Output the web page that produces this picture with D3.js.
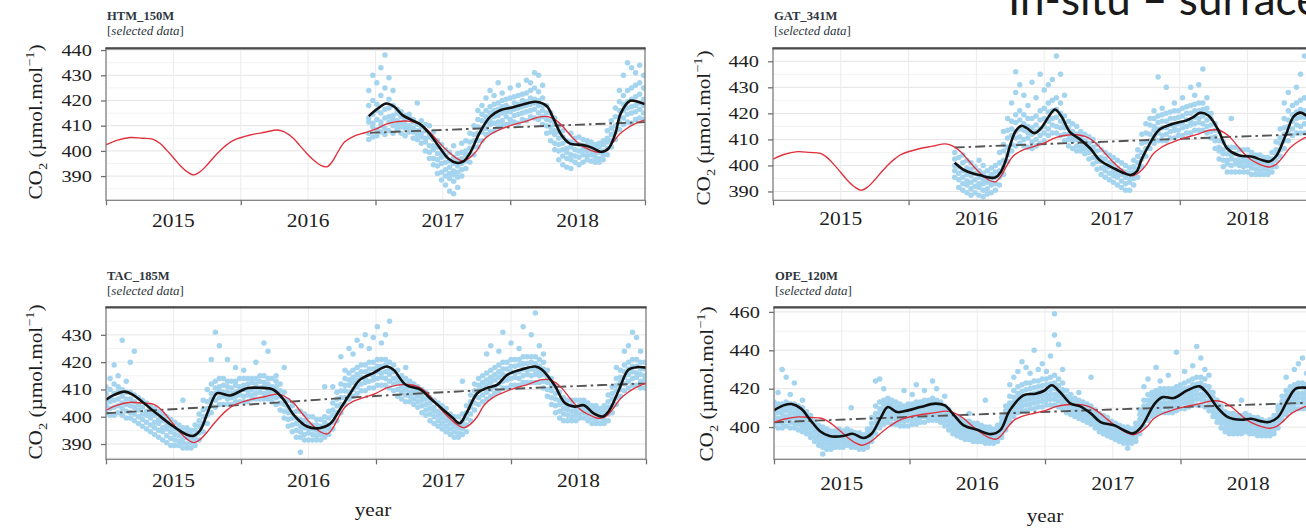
<!DOCTYPE html>
<html>
<head>
<meta charset="utf-8">
<script src="https://cdn.jsdelivr.net/npm/d3@7"></script>
<style>
  html, body { margin: 0; padding: 0; background: #fff; overflow: hidden; }
  svg { display: block; }
</style>
</head>
<body>
<svg id="chart" width="1306" height="528"></svg>
<script>
// ---------------------------------------------------------------
// Data: CO2 (µmol/mol) at four towers, decimal years
// ---------------------------------------------------------------

// Year boundaries (tick marks) and year names (labels at mid-year)
const yearTicks  = [2015, 2016, 2017, 2018, 2019];
const yearLabels = [2015, 2016, 2017, 2018];

// Surface reference curve (red), common to the four sites
const surfaceRef = [
  [2015.00,402.4],[2015.08,404.2],[2015.18,405.3],[2015.27,405.0],[2015.35,404.6],[2015.40,403.0],
  [2015.45,400.3],[2015.50,397.3],[2015.55,394.2],[2015.60,391.8],[2015.65,390.5],[2015.70,391.8],
  [2015.75,394.4],[2015.80,397.5],[2015.85,400.3],[2015.90,402.6],[2015.95,404.3],[2016.07,406.3],
  [2016.18,407.4],[2016.27,408.3],[2016.32,407.6],[2016.39,405.0],[2016.44,402.0],[2016.49,399.0],
  [2016.54,396.4],[2016.59,394.4],[2016.64,393.7],[2016.68,395.8],[2016.72,399.5],[2016.77,403.5],
  [2016.83,405.6],[2016.92,407.2],[2017.00,408.6],[2017.08,410.6],[2017.16,411.6],[2017.24,411.8],
  [2017.31,411.0],[2017.36,409.5],[2017.41,407.0],[2017.46,404.0],[2017.51,401.2],[2017.56,398.8],
  [2017.61,396.8],[2017.65,396.0],[2017.70,397.3],[2017.75,400.0],[2017.80,404.2],[2017.86,406.8],
  [2017.93,408.6],[2018.03,410.5],[2018.12,411.8],[2018.22,413.5],[2018.28,413.6],[2018.33,412.5],
  [2018.38,410.3],[2018.43,407.2],[2018.47,404.8],[2018.52,402.4],[2018.57,400.9],[2018.62,399.8],
  [2018.66,399.4],[2018.71,400.4],[2018.76,403.2],[2018.81,406.6],[2018.86,408.7],[2018.92,410.6],
  [2019.00,412.3]
];

// ---- HTM_150M ----
const htmSmooth = [
  [2016.95,413.8],[2017.02,416.9],[2017.08,418.8],[2017.14,417.5],[2017.20,414.2],[2017.27,412.2],
  [2017.33,410.6],[2017.40,406.9],[2017.48,401.0],[2017.54,397.0],[2017.60,395.3],[2017.65,395.7],
  [2017.70,399.0],[2017.77,406.9],[2017.85,413.5],[2017.93,416.2],[2018.02,417.3],[2018.12,418.8],
  [2018.19,419.5],[2018.27,417.8],[2018.32,412.9],[2018.38,406.3],[2018.44,403.0],[2018.54,402.3],
  [2018.60,401.4],[2018.68,399.6],[2018.73,401.0],[2018.78,406.9],[2018.82,414.9],[2018.89,419.9],
  [2018.94,419.6],[2019.00,418.6]
];
const htmTrend = [[2016.96,407.2],[2019.00,411.4]];
const htmObs = [
  [2016.95,404.5,407,411.5,413,418,424],[2016.98,405.5,409.5,411,414.5,420,430],
  [2017.01,406,408.5,412.5,416,418.5,427],[2017.04,407.5,410,411.5,415,422,433],
  [2017.07,406.5,409,413,416.5,425,438],[2017.10,408,411.5,413.5,417,420.5,429],
  [2017.13,407,410,412.5,414,418,424],[2017.16,408.5,410.5,412,415,416.5],
  [2017.19,407,409.5,411,413.5,415.5],[2017.22,406,409,410.5,412.5,414],
  [2017.25,407.5,408.5,410,413,414.5],[2017.28,405,407.5,409,411.5,412.5],
  [2017.31,404.5,406.5,408,410.5,419],[2017.34,403,405.5,407,409.5,412],
  [2017.37,400,403.5,405,408,410.5],[2017.40,397,399.5,402,405.5,406.5,410],
  [2017.43,394.5,397,400.5,402,404.5,407.5],[2017.46,391,394,396.5,399,401.5,404],
  [2017.49,388.5,391.5,395,397.5,399,402.5],[2017.52,386.5,390,392.5,395.5,398,400.5],
  [2017.55,384,389,391,393.5,396,399.5],[2017.58,383,388,390.5,392,395,397.5,402],
  [2017.61,385.5,389.5,391.5,394,396.5,399],[2017.64,390,392.5,395,397,399.5,403],
  [2017.67,393,396,398.5,400,404],[2017.70,395.5,398.5,401,403.5,407],
  [2017.73,398.5,401.5,404,406.5,410],[2017.76,401.5,404,407,409.5,412.5,416],
  [2017.79,404,407.5,409,412,414.5,418],[2017.82,406.5,409,411.5,413.5,416,421],
  [2017.85,407.5,410.5,412,415,417.5,424],[2017.88,408,411,413.5,416,418.5,422],
  [2017.91,409.5,411.5,414,416.5,419,427],[2017.94,410,412,415,417.5,420,423],
  [2017.97,410.5,413.5,415.5,418,420.5],[2018.00,411,412.5,415.5,417,421,425],
  [2018.03,411.5,414,416.5,419,421.5],[2018.06,411,414.5,417,418.5,422,426],
  [2018.09,412.5,415,417.5,420,422.5],[2018.12,412,415.5,418,419.5,423,428],
  [2018.15,413.5,416,418.5,421,424,427],[2018.18,413,416.5,419,420.5,425,431],
  [2018.21,412.5,415,418,420,423.5,430],[2018.24,410.5,413.5,416,418,421,426],
  [2018.27,407,410,412.5,415,418],[2018.30,404,407.5,409.5,412,415],
  [2018.33,400.5,403,406.5,408,410.5,413],[2018.36,396.5,400,402.5,405,407.5,410],
  [2018.39,394.5,398,400.5,403,405.5,408],[2018.42,393.5,397,399.5,401,404],
  [2018.45,393,396.5,398.5,401.5,403.5,407],[2018.48,395.5,398,400.5,403,405],
  [2018.51,394.5,397.5,400,402.5,405.5],[2018.54,395.5,398.5,400.5,402,404.5],
  [2018.57,396.5,398,400,402.5,404],[2018.60,396,398.5,400.5,401.5,403.5],
  [2018.63,395.5,397.5,399,401,402.5],[2018.66,395.5,397,399.5,401.5,403],
  [2018.69,396.5,398.5,400,402.5,404],[2018.72,398.5,401,403.5,405,408],
  [2018.75,401.5,404,406.5,409,412],[2018.78,404.5,407.5,410,413.5,417],
  [2018.81,408.5,411.5,413.5,416,419.5,424],[2018.84,410.5,413,416,418.5,422,430],
  [2018.87,411.5,414.5,417,419.5,424,435],[2018.90,411,415,417.5,420.5,425,433],
  [2018.93,412.5,415.5,418,421.5,426,431],[2018.96,413,416.5,419,422.5,427,434],
  [2018.99,412.5,415,418,420.5,425,430]
];

// ---- GAT_341M ----
const gatSmooth = [
  [2016.34,401.0],[2016.40,398.5],[2016.47,397.0],[2016.53,396.2],[2016.60,395.3],[2016.64,395.4],
  [2016.68,397.5],[2016.72,402.5],[2016.75,408.0],[2016.79,413.2],[2016.83,415.2],[2016.87,414.4],
  [2016.93,412.4],[2016.98,414.5],[2017.03,418.5],[2017.08,421.5],[2017.13,418.6],[2017.19,412.8],
  [2017.26,410.2],[2017.34,406.5],[2017.41,402.0],[2017.51,399.0],[2017.58,397.2],[2017.64,396.3],
  [2017.68,397.5],[2017.72,402.5],[2017.78,408.5],[2017.85,413.8],[2017.95,416.0],[2018.05,417.3],
  [2018.10,418.6],[2018.15,420.2],[2018.21,419.2],[2018.28,414.0],[2018.35,406.5],[2018.44,403.8],
  [2018.53,403.4],[2018.61,402.0],[2018.66,401.5],[2018.71,403.5],[2018.78,411.5],[2018.84,418.8],
  [2018.89,420.3],[2018.94,419.0],[2019.00,418.0]
];
const gatTrend = [[2016.34,406.9],[2019.00,412.2]];
const gatObs = [
  [2016.34,395.5,398,400,402.5,405],[2016.37,391.5,394.5,397,399.5,403],
  [2016.40,390.5,393,395.5,398,401,404],[2016.43,389.5,392.5,394,396.5,399,402],
  [2016.46,388.5,391,393.5,396,398.5,401],[2016.49,389.5,392,394.5,397,399.5],
  [2016.52,388.5,391.5,393,395.5,398,402],[2016.55,388,390.5,393,394.5,397,400],
  [2016.58,389,391,393.5,395.5,398],[2016.61,389.5,392.5,394,396.5,399],
  [2016.64,390.5,393,395.5,397.5,400],[2016.67,392.5,395.5,398,401,405],
  [2016.70,396.5,399.5,402,405.5,408,413],[2016.73,401.5,404,407,410.5,413.5,418],
  [2016.76,405.5,408,411.5,414,417,424],[2016.79,407.5,410.5,413,416.5,419.5,428,436],
  [2016.82,408.5,411,414,417.5,421,431],[2016.85,407.5,410,413.5,416,419.5,427],
  [2016.88,407,410.5,412.5,415,418,423],[2016.91,406.5,409,412,414.5,418,432],
  [2016.94,407.5,410,413,415.5,419,426],[2016.97,408.5,411.5,414,417.5,421,435],
  [2017.00,409.5,412.5,415,418,422,429],[2017.03,411.5,414,417,420.5,424,431],
  [2017.06,412.5,415.5,418,421,425,433],[2017.09,412.5,415,418.5,421.5,426,442],
  [2017.12,411.5,414.5,417,420,424,435],[2017.15,409.5,412,414.5,416,419,427],
  [2017.18,407.5,410,412,414.5,417],[2017.21,406.5,409.5,411,413,416],
  [2017.24,405.5,407.5,410,412,415],[2017.27,405.5,407,409,411,413],
  [2017.30,404.5,406.5,408,409.5,412],[2017.33,402.5,405,406.5,408.5,411],
  [2017.36,400.5,403,405.5,407,410],[2017.39,398.5,401.5,403,405.5,408],
  [2017.42,396.5,399,401.5,403,406],[2017.45,395.5,398,400,402.5,405],
  [2017.48,394.5,397,399.5,401,404],[2017.51,393.5,396,398,400.5,403],
  [2017.54,392.5,395.5,397,399,402],[2017.57,391.5,394,396.5,398,401],
  [2017.60,390.5,393,395.5,397.5,400],[2017.63,390.5,393.5,395,397,399],
  [2017.66,392.5,395,397.5,399.5,402],[2017.69,395.5,398.5,401,403.5,406],
  [2017.72,399.5,402.5,405,408.5,412],[2017.75,403.5,406.5,409,412.5,416],
  [2017.78,406.5,409.5,412,415.5,418],[2017.81,408.5,411,413.5,415,418,421],
  [2017.84,409.5,412.5,414,416.5,419,434],[2017.87,409.5,411.5,414.5,417,419.5,422],
  [2017.90,409.5,412,414.5,417,420,430],[2017.93,410.5,413,415.5,418,420.5],
  [2017.96,410.5,413.5,415,418,421,424],[2017.99,411.5,413.5,416,418.5,421],
  [2018.02,411.5,414.5,416.5,419,422,426],[2018.05,412.5,415,417.5,420,422.5],
  [2018.08,412.5,415.5,417,420,423,430],[2018.11,413.5,416,418.5,421,423.5,427],
  [2018.14,413.5,416.5,418,421,424,431],[2018.17,413.5,416,419,421.5,424,437],
  [2018.20,412.5,415,417.5,420,422,426],[2018.23,410.5,413,415.5,418,420],
  [2018.26,406.5,409.5,411,413.5,416],[2018.29,402.5,405.5,407,409.5,413],
  [2018.32,399.5,402,404.5,406,409],[2018.35,397.5,400.5,402,404.5,407],
  [2018.38,397.5,400,402.5,404,407,418],[2018.41,397.5,400.5,402,404.5,407],
  [2018.44,397.5,400,401.5,403.5,406],[2018.47,397.5,399.5,401.5,403,406],
  [2018.50,397.5,400,401.5,403.5,406],[2018.53,396.5,399,400.5,402.5,405],
  [2018.56,396.5,398.5,400.5,402,404],[2018.59,396.5,398,400,401.5,404],
  [2018.62,396.5,398.5,399.5,401.5,403],[2018.65,396.5,398,400,401,403],
  [2018.68,397.5,399.5,401,402.5,405],[2018.71,399.5,402,404.5,406,409],
  [2018.74,403.5,406,408.5,410.5,414],[2018.77,406.5,409.5,412,414.5,418,424],
  [2018.80,409.5,412.5,415,417.5,421,428],[2018.83,411.5,414,417,419.5,423],
  [2018.86,412.5,415.5,418,420.5,424,430],[2018.89,412.5,415,418.5,421.5,425,435],
  [2018.92,412.5,416,418.5,421,426,442],[2018.95,412.5,415.5,418,421,425],
  [2018.98,411.5,414.5,417,419.5,424]
];

// ---- TAC_185M ----
const tacSmooth = [
  [2015.00,406.2],[2015.06,408.0],[2015.14,409.2],[2015.20,408.0],[2015.28,405.0],[2015.38,401.0],
  [2015.50,396.4],[2015.60,393.4],[2015.65,393.0],[2015.70,395.2],[2015.76,402.5],[2015.82,408.6],
  [2015.86,408.4],[2015.92,407.8],[2016.00,409.5],[2016.05,410.5],[2016.14,410.6],[2016.24,409.9],
  [2016.32,406.0],[2016.39,400.7],[2016.49,396.4],[2016.58,395.8],[2016.66,397.4],[2016.73,402.5],
  [2016.81,408.6],[2016.88,413.5],[2016.98,416.0],[2017.08,418.4],[2017.13,417.2],[2017.22,411.7],
  [2017.33,409.9],[2017.40,406.8],[2017.50,402.5],[2017.57,399.5],[2017.62,397.6],[2017.67,401.3],
  [2017.75,408.6],[2017.82,410.5],[2017.90,411.8],[2017.97,415.3],[2018.07,417.2],[2018.18,418.4],
  [2018.23,417.2],[2018.32,411.7],[2018.40,405.0],[2018.47,403.7],[2018.54,404.2],[2018.61,401.3],
  [2018.68,400.1],[2018.73,402.5],[2018.80,409.9],[2018.87,417.2],[2018.94,418.2],[2019.00,418.0]
];
const tacTrend = [[2015.00,401.3],[2016.00,404.3],[2017.00,407.6],[2018.00,410.2],[2019.00,412.2]];
const tacObs = [
  [2015.00,401.5,404,406,408.5,411],[2015.03,400.5,403,405.5,407,410,414],
  [2015.06,400.5,403.5,406,408.5,412,419],[2015.09,401.5,404,406.5,409,411,415],
  [2015.12,400.5,403,405,407.5,410,428],[2015.15,399.5,402,404.5,406.5,409,413],
  [2015.18,399.5,401.5,404,406.5,409,420],[2015.21,398.5,401,403.5,405.5,408,424],
  [2015.24,397.5,400,402.5,404.5,407],[2015.27,396.5,399,401,403.5,406],
  [2015.30,395.5,398,400.5,402,405],[2015.33,394.5,397,399.5,401,404],
  [2015.36,393.5,396,398,400.5,403],[2015.39,392.5,395,397.5,399,402],
  [2015.42,391.5,394.5,396,398.5,401],[2015.45,390.5,393,395.5,397,400],
  [2015.48,389.5,392,394.5,396.5,399],[2015.51,389.5,391.5,393.5,395.5,398],
  [2015.54,389.5,391,393,395,397],[2015.57,388.5,390.5,392,394,396,406],
  [2015.60,388.5,390,392.5,394.5,396],[2015.63,388.5,390.5,392,393.5,395],
  [2015.66,389.5,391.5,393,395,397],[2015.69,391.5,394,396.5,398.5,401],
  [2015.72,394.5,397.5,400,402.5,406],[2015.75,397.5,400.5,403,405.5,410],
  [2015.78,401.5,404,406.5,408.5,412,421],[2015.81,403.5,406,408.5,410.5,413,431],
  [2015.84,404.5,407,409.5,411,414,426],[2015.87,404.5,407.5,409,411.5,414],
  [2015.90,404.5,406.5,409,411,413,421],[2015.93,404.5,407,408.5,410.5,413],
  [2015.96,405.5,407.5,409,411.5,413,418],[2015.99,405.5,408,409.5,411,414],
  [2016.02,405.5,407.5,410,411.5,414,417],[2016.05,405.5,408,409.5,412,414],
  [2016.08,406.5,408,410,412.5,414],[2016.11,406.5,408.5,410.5,412,414,420],
  [2016.14,406.5,409,410.5,413,415],[2016.17,406.5,408.5,411,412.5,415,427],
  [2016.20,406.5,408.5,410,412,414,424],[2016.23,405.5,407.5,409.5,411,414],
  [2016.26,404.5,407,409,411,413,415],[2016.29,402.5,405,407.5,409.5,412],
  [2016.32,399.5,402,404.5,406.5,409,418],[2016.35,396.5,399,401.5,403.5,406],
  [2016.38,394.5,397,399.5,401.5,404],[2016.41,392.5,395,397.5,399.5,402],
  [2016.44,387,392.5,394.5,396.5,399,402],[2016.47,391.5,393.5,396,398.5,401],
  [2016.50,391.5,394,395.5,397.5,400],[2016.53,391.5,393.5,395.5,397,400],
  [2016.56,391.5,393,395,397,399],[2016.59,391.5,393.5,394.5,396.5,399],
  [2016.62,392.5,394,396,398,400,411],[2016.65,393.5,395.5,397,399.5,402],
  [2016.68,395.5,398,400.5,402.5,405,411],[2016.71,398.5,401.5,404,406.5,409],
  [2016.74,401.5,404.5,407,409.5,412,422],[2016.77,404.5,407,409.5,411.5,414,417],
  [2016.80,406.5,409,411.5,413.5,416,425],[2016.83,407.5,410,412.5,414.5,417,423],
  [2016.86,408.5,411,413.5,415.5,418,428],[2016.89,409.5,412,414.5,416.5,419,426],
  [2016.92,409.5,412.5,414,416.5,419,430],[2016.95,410.5,413,415.5,417.5,420,425],
  [2016.98,410.5,413.5,415,417.5,420,429],[2017.01,411.5,414,416.5,418.5,421,433],
  [2017.04,411.5,414.5,416,418.5,421,427],[2017.07,411.5,414,416.5,419,421,430],
  [2017.10,410.5,413,415.5,417.5,420,435],[2017.13,409.5,412,414,416.5,419],
  [2017.16,407.5,410,412.5,414.5,417],[2017.19,406.5,409,411,413,415],
  [2017.22,405.5,408,410,412,414,418],[2017.25,405.5,407.5,409,411,413],
  [2017.28,404.5,406.5,408.5,410,412],[2017.31,403.5,405.5,407.5,409,411],
  [2017.34,401.5,404,406,407.5,410],[2017.37,400.5,402.5,404.5,406.5,409],
  [2017.40,398.5,401,403,405,407],[2017.43,397.5,400,402,403.5,406],
  [2017.46,396.5,398.5,400.5,402,405],[2017.49,395.5,397.5,399.5,401,404],
  [2017.52,394.5,396.5,398.5,400,403],[2017.55,393.5,395.5,397.5,399,401],
  [2017.58,392.5,394.5,396.5,398,400],[2017.61,392.5,394,396,397.5,400],
  [2017.64,393.5,395.5,397,398.5,401,413],[2017.67,394.5,397,399.5,401.5,404],
  [2017.70,398.5,401,403.5,405.5,408],[2017.73,402.5,405,407.5,409.5,412],
  [2017.76,404.5,407,409.5,411.5,414],[2017.79,405.5,408,410.5,412.5,415],
  [2017.82,406.5,409,411.5,413.5,416,423],[2017.85,407.5,410,412.5,414.5,417,426],
  [2017.88,408.5,411,413.5,415.5,418],[2017.91,409.5,412,414.5,416.5,419,424],
  [2017.94,410.5,413,415.5,417.5,420,431],[2017.97,410.5,413.5,415,417.5,420],
  [2018.00,411.5,414,416.5,418.5,421,427],[2018.03,411.5,414.5,416,418.5,421],
  [2018.06,411.5,414,416.5,419,421,425],[2018.09,412.5,415,417.5,419.5,422,433],
  [2018.12,412.5,415.5,417,419.5,422],[2018.15,412.5,415,417.5,420,422,430],
  [2018.18,412.5,415.5,417,419.5,422,438],[2018.21,412.5,415,416.5,418.5,421,426],
  [2018.24,410.5,413,415.5,417.5,420,423],[2018.27,407.5,410,412.5,414.5,417],
  [2018.30,404.5,407,409.5,411.5,414],[2018.33,401.5,404,406.5,408.5,411],
  [2018.36,399.5,402,404.5,406,409],[2018.39,398.5,401,403,405,407],
  [2018.42,398.5,400.5,402.5,404,406],[2018.45,398.5,400,402,404,406],
  [2018.48,398.5,400.5,402,403.5,406],[2018.51,399.5,401,403,404.5,406],
  [2018.54,399.5,401.5,403,404.5,406],[2018.57,398.5,400.5,402,403.5,405],
  [2018.60,397.5,399.5,401,402.5,404],[2018.63,397.5,399,401,402.5,404],
  [2018.66,397.5,399.5,400.5,402,403],[2018.69,397.5,399,401,402.5,404],
  [2018.72,398.5,401,403.5,405.5,408],[2018.75,401.5,404,406.5,408.5,411],
  [2018.78,404.5,407,409.5,411.5,414,418],[2018.81,407.5,410,412.5,414.5,417],
  [2018.84,409.5,412,414.5,416.5,419,424],[2018.87,410.5,413,415.5,417.5,420,426],
  [2018.90,411.5,414,416.5,418.5,421,431],[2018.93,411.5,414.5,416,418.5,421,429],
  [2018.96,410.5,413,415.5,417.5,420,424],[2018.99,410.5,413.5,415,417.5,420]
];

// ---- OPE_120M ----
const opeSmooth = [
  [2015.00,408.7],[2015.07,411.3],[2015.13,412.0],[2015.20,409.6],[2015.27,403.5],[2015.34,397.8],
  [2015.41,395.3],[2015.51,395.3],[2015.58,396.5],[2015.66,394.3],[2015.72,396.5],[2015.79,405.2],
  [2015.84,410.4],[2015.91,407.8],[2015.99,408.7],[2016.08,410.4],[2016.19,412.2],[2016.26,411.3],
  [2016.33,406.1],[2016.40,400.9],[2016.50,398.6],[2016.60,396.3],[2016.67,398.4],[2016.74,408.7],
  [2016.84,416.5],[2016.93,417.4],[2016.99,418.8],[2017.05,421.8],[2017.11,418.3],[2017.19,412.2],
  [2017.26,410.8],[2017.34,407.0],[2017.41,402.6],[2017.51,400.9],[2017.61,397.4],[2017.65,396.7],
  [2017.71,400.0],[2017.81,412.2],[2017.87,415.6],[2017.95,415.1],[2018.05,419.1],[2018.14,421.2],
  [2018.20,417.4],[2018.27,410.4],[2018.35,405.2],[2018.45,403.8],[2018.52,404.3],[2018.59,403.1],
  [2018.65,402.6],[2018.72,405.2],[2018.79,413.9],[2018.85,420.0],[2018.93,420.5],[2019.00,419.5]
];
const opeTrend = [[2015.00,402.5],[2016.50,406.6],[2019.00,412.8]];
const opeObs = [
  [2015.00,400.5,403,405.5,408,410.5,413],[2015.03,399.5,402.5,404.5,407.5,410,412,418],
  [2015.06,399.5,402,405,407,409.5,412,430],[2015.09,400.5,403.5,405.5,408.5,411,413,426],
  [2015.12,399.5,402.5,404.5,407,409.5,412,417],[2015.15,399.5,402,405,407.5,410,412,423],
  [2015.18,398.5,401.5,403.5,406,408.5,411],[2015.21,397.5,400,402.5,405,407.5,410,414],
  [2015.24,396.5,399,401.5,403.5,406,408],[2015.27,394.5,397,399.5,401.5,404,406],
  [2015.30,392.5,395,397.5,399.5,401,403],[2015.33,390.5,393,395.5,397.5,399,401],
  [2015.36,386,389.5,392,394,396,398,400],[2015.39,388.5,391,393.5,395,397,399],
  [2015.42,388.5,390.5,392.5,394.5,396,398],[2015.45,389.5,391.5,393,395,396.5,398],
  [2015.48,389.5,392,393.5,395.5,397,399],[2015.51,389.5,391.5,393.5,395,396.5,398],
  [2015.54,390.5,392,394,396,397.5,399],[2015.57,389.5,391.5,393.5,395,396.5,398,410],
  [2015.60,389.5,391,393,394.5,396,397],[2015.63,388.5,390,392,393.5,395.5,397],
  [2015.66,388.5,390.5,392,393.5,395,396],[2015.69,389.5,391.5,393.5,395.5,397,399],
  [2015.72,392.5,395,397.5,399.5,402,405],[2015.75,396.5,399.5,402,404.5,407,411,424],
  [2015.78,399.5,402,404.5,407,409.5,413,425],[2015.81,401.5,404,406.5,409,411.5,414,420],
  [2015.84,402.5,405,407.5,410,412.5,415],[2015.87,401.5,404.5,406.5,409,411.5,414],
  [2015.90,401.5,404,406,408.5,410.5,413],[2015.93,400.5,403,405.5,407.5,410,412],
  [2015.96,400.5,403,405,407.5,409.5,411,419],[2015.99,400.5,403.5,405.5,408,410,412],
  [2016.02,401.5,404,406,408.5,410.5,412,417],[2016.05,401.5,404,406.5,409,411,413,422],
  [2016.08,402.5,405,407,409.5,411.5,413],[2016.11,402.5,405.5,407.5,410,412,414,419],
  [2016.14,403.5,405.5,408,410.5,412.5,414],[2016.17,403.5,406,408.5,410.5,413,415,424],
  [2016.20,403.5,405.5,408,410,412,414,420],[2016.23,402.5,405,407,409.5,411.5,413],
  [2016.26,400.5,403,405.5,408,410,411,416],[2016.29,398.5,401,403,405.5,407,409],
  [2016.32,396.5,399,401,403,404.5,406],[2016.35,395.5,398,400,402,403.5,405],
  [2016.38,394.5,397,399,401,402.5,404],[2016.41,393.5,396,398,400,401.5,403],
  [2016.44,393.5,395.5,397.5,399.5,401,403,407],[2016.47,392.5,395,397,399,400.5,402],
  [2016.50,392.5,394.5,396.5,398.5,400,402],[2016.53,392.5,394.5,396,398,399.5,401],
  [2016.56,391.5,393.5,395.5,397,398.5,400,414],[2016.59,391.5,393.5,395,396.5,398.5,400],
  [2016.62,391.5,393,394.5,396,397.5,399],[2016.65,392.5,394,396,397.5,399.5,401],
  [2016.68,394.5,396.5,398.5,400.5,402.5,405],[2016.71,398.5,401,403.5,406,408.5,411],
  [2016.74,402.5,405,407.5,410,412.5,416,422],[2016.77,405.5,408,410.5,413,415.5,419,426],
  [2016.80,407.5,410,412.5,415,417.5,421,429],[2016.83,408.5,411,413.5,416,418.5,422,434],
  [2016.86,408.5,411.5,414,416.5,419.5,423,431],[2016.89,409.5,412,414.5,417,420,423,428],
  [2016.92,409.5,412.5,415,417.5,420.5,424,440],[2016.95,410.5,413,415.5,418,421,424,430],
  [2016.98,410.5,413.5,416,418.5,421.5,425,433],[2017.01,411.5,414,416.5,419,422,425,429],
  [2017.04,411.5,414.5,417,419.5,422.5,426,437],[2017.07,411.5,414.5,417,420,423,427,448,459],
  [2017.10,410.5,413.5,416,418.5,421.5,425,443],[2017.13,409.5,412,414.5,417,419.5,423,430],
  [2017.16,407.5,409.5,411.5,413.5,416,419],[2017.19,406.5,408.5,410.5,412,414.5,417],
  [2017.22,405.5,407.5,409.5,411,413,415],[2017.25,404.5,406.5,408.5,410,412,414,418],
  [2017.28,403.5,405.5,407.5,409,411,413],[2017.31,402.5,404.5,406.5,408,410,412],
  [2017.34,401.5,403.5,405.5,407,409,411,426],[2017.37,399.5,401.5,403.5,405,407,409],
  [2017.40,397.5,399.5,401.5,403,405,407],[2017.43,396.5,398.5,400.5,402,404,406],
  [2017.46,395.5,397.5,399.5,401,403,405],[2017.49,394.5,396.5,398.5,400,401.5,403],
  [2017.52,393.5,395.5,397.5,399,400.5,402],[2017.55,392.5,394.5,396.5,398,399.5,401],
  [2017.58,391.5,393.5,395.5,397,398.5,400],[2017.61,389,391.5,393.5,395,396.5,398,400],
  [2017.64,391.5,393,395,396.5,398,399],[2017.67,392.5,394.5,396.5,398.5,400,402],
  [2017.70,396.5,399,401.5,404,406.5,409],[2017.73,400.5,403.5,406,408.5,411,414,421],
  [2017.76,403.5,406.5,409,411.5,414,417,425],[2017.79,405.5,408,410.5,413,415.5,418],
  [2017.82,406.5,409,411.5,414,416.5,419,431],[2017.85,407.5,410,412.5,415,417.5,420,424],
  [2017.88,407.5,410.5,412.5,415,417.5,420],[2017.91,407.5,410,412.5,415,417.5,420,427],
  [2017.94,407.5,410.5,413,415.5,418,420],[2017.97,408.5,411,413.5,416,418.5,421,439],
  [2018.00,409.5,412,414.5,417,419.5,422],[2018.03,409.5,412.5,415,417.5,420,423,429],
  [2018.06,410.5,413,415.5,418,420.5,424],[2018.09,411.5,414,416.5,419,422,425,432],
  [2018.12,411.5,414.5,417,419.5,422.5,426,442],[2018.15,411.5,414.5,417,420,423,426,436],
  [2018.18,410.5,413.5,416,418.5,421.5,425,430],[2018.21,408.5,411,413.5,416,418.5,421,427],
  [2018.24,405.5,408,410.5,413,415.5,418],[2018.27,402.5,405,407.5,410,412,414],
  [2018.30,399.5,402,404.5,406.5,409,411],[2018.33,397.5,399.5,402,404,406,408],
  [2018.36,396.5,398.5,401,403,405,407],[2018.39,396.5,398.5,400.5,402.5,405,407],
  [2018.42,396.5,398.5,400.5,402.5,404.5,406],[2018.45,396.5,398.5,400.5,402.5,404.5,406,414],
  [2018.48,397.5,399.5,401.5,403.5,405.5,407],[2018.51,396.5,398.5,400.5,402.5,404,406],
  [2018.54,396.5,398.5,400.5,402,403.5,405],[2018.57,395.5,397.5,399.5,401.5,403,405],
  [2018.60,395.5,397.5,399.5,401,402.5,404],[2018.63,395.5,397,399,400.5,402,403],
  [2018.66,395.5,397,399,400.5,402.5,404],[2018.69,396.5,398.5,400.5,402.5,404.5,406],
  [2018.72,399.5,402,404.5,406.5,409,411],[2018.75,403.5,406,408.5,411,413.5,416],
  [2018.78,406.5,409,411.5,414,416.5,419,426],[2018.81,408.5,411,413.5,416,418.5,421],
  [2018.84,409.5,412,414.5,417,419.5,422,430],[2018.87,409.5,412.5,415,417.5,420.5,423,433],
  [2018.90,409.5,412.5,415,417.5,420.5,423,436],[2018.93,409.5,412,414.5,417,419.5,422,428],
  [2018.96,408.5,411,413.5,416,418.5,421],[2018.99,408.5,411,413.5,416,418.5,421]
];

// ---------------------------------------------------------------
// Panel layout
// ---------------------------------------------------------------
const panels = [
  { id: "htm", title: "HTM_150M", obs: htmObs, smooth: htmSmooth, trend: htmTrend,
    yTicks: [390, 400, 410, 420, 430, 440], yDomain: [380.4, 440.7],
    left: 106, right: 645, top: 48.3, bottom: 200.3,
    titleY: 20, subY: 34.5, yTitleX: 42, yTitleY: 122, xLabelY: 226.7, xTitle: null },
  { id: "gat", title: "GAT_341M", obs: gatObs, smooth: gatSmooth, trend: gatTrend,
    yTicks: [390, 400, 410, 420, 430, 440], yDomain: [386.6, 445.0],
    left: 773, right: 1315.4, top: 48.3, bottom: 200.3,
    titleY: 20, subY: 34.5, yTitleX: 710, yTitleY: 128, xLabelY: 225, xTitle: null },
  { id: "tac", title: "TAC_185M", obs: tacObs, smooth: tacSmooth, trend: tacTrend,
    yTicks: [390, 400, 410, 420, 430], yDomain: [384.4, 440.1],
    left: 106, right: 646, top: 307.3, bottom: 459.3,
    titleY: 279.5, subY: 294.5, yTitleX: 42, yTitleY: 382, xLabelY: 486.7,
    xTitle: { x: 373, y: 516 } },
  { id: "ope", title: "OPE_120M", obs: opeObs, smooth: opeSmooth, trend: opeTrend,
    yTicks: [400, 420, 440, 460], yDomain: [383.2, 462.4],
    left: 774, right: 1316, top: 307.3, bottom: 459.3,
    titleY: 279.5, subY: 294.5, yTitleX: 713, yTitleY: 384, xLabelY: 490,
    xTitle: { x: 1045, y: 522 } }
];

const SERIF = "'Liberation Serif', 'Times New Roman', Times, serif";
const INK = "#1e1e1e";

const svg = d3.select("#chart");
const defs = svg.append("defs");

// Text with a horizontal stretch along its own direction
function stretchedText(parent, str, x, y, opts) {
  const o = Object.assign({ size: 18, sx: 1.1, rot: 0, anchor: "start", style: "normal",
                            weight: "normal", fill: INK }, opts);
  return parent.append("text")
    .attr("transform", `translate(${x},${y}) rotate(${o.rot}) scale(${o.sx},1)`)
    .attr("text-anchor", o.anchor)
    .attr("font-family", SERIF)
    .attr("font-size", o.size)
    .attr("font-style", o.style)
    .attr("font-weight", o.weight)
    .attr("fill", o.fill)
    .text(str);
}

panels.forEach(p => {
  const x = d3.scaleLinear().domain([2015, 2019]).range([p.left, p.right]);
  const y = d3.scaleLinear().domain(p.yDomain).range([p.bottom, p.top]);
  const g = svg.append("g").attr("class", "panel-" + p.id);

  const clipId = "clip-" + p.id;
  defs.append("clipPath").attr("id", clipId).append("rect")
    .attr("x", p.left).attr("y", p.top)
    .attr("width", p.right - p.left).attr("height", p.bottom - p.top);

  // light background grid
  const grid = g.append("g").attr("clip-path", `url(#${clipId})`);
  const yStep = p.yTicks[1] - p.yTicks[0];
  const minorY = d3.range(p.yTicks[0] - yStep / 2, p.yDomain[1], yStep / 2)
    .filter(v => v > p.yDomain[0] && v < p.yDomain[1]);
  grid.selectAll("line.gy").data(minorY).join("line")
    .attr("x1", p.left).attr("x2", p.right)
    .attr("y1", d => y(d)).attr("y2", d => y(d))
    .attr("stroke", d => p.yTicks.includes(d) ? "#e4e4e4" : "#f2f2f2").attr("stroke-width", 1);
  const gridX = yearTicks.concat(yearLabels.map(yr => yr + 0.5));
  grid.selectAll("line.gx").data(gridX).join("line")
    .attr("x1", d => x(d)).attr("x2", d => x(d))
    .attr("y1", p.top).attr("y2", p.bottom)
    .attr("stroke", "#ececec").attr("stroke-width", 1);

  const plot = g.append("g").attr("clip-path", `url(#${clipId})`);

  // observations
  const pts = p.obs.flatMap(([t, ...vals]) => vals.map(v => [t, v]));
  plot.append("g").selectAll("circle").data(pts).join("circle")
    .attr("cx", d => x(d[0])).attr("cy", d => y(d[1]))
    .attr("r", 2.75).attr("fill", "#a5d4ef");

  const smoothLine = d3.line().x(d => x(d[0])).y(d => y(d[1])).curve(d3.curveCatmullRom.alpha(0.5));
  const trendLine = d3.line().x(d => x(d[0])).y(d => y(d[1])).curve(d3.curveMonotoneX);

  // long-term trend (dash-dot)
  plot.append("path").datum(p.trend)
    .attr("d", trendLine).attr("fill", "none")
    .attr("stroke", "#555").attr("stroke-width", 1.9)
    .attr("stroke-dasharray", "10,4,2.5,4");

  // surface reference (red)
  plot.append("path").datum(surfaceRef)
    .attr("d", smoothLine).attr("fill", "none")
    .attr("stroke", "#e0303c").attr("stroke-width", 1.35);

  // smoothed site series (black)
  plot.append("path").datum(p.smooth)
    .attr("d", smoothLine).attr("fill", "none")
    .attr("stroke", "#111").attr("stroke-width", 2.6)
    .attr("stroke-linejoin", "round");

  // frame
  g.append("rect")
    .attr("x", p.left).attr("y", p.top)
    .attr("width", p.right - p.left).attr("height", p.bottom - p.top)
    .attr("fill", "none").attr("stroke", "#808080").attr("stroke-width", 1.3);
  g.append("line")
    .attr("x1", p.left - 0.6).attr("x2", p.right + 0.6)
    .attr("y1", p.top).attr("y2", p.top)
    .attr("stroke", "#4a4a4a").attr("stroke-width", 2.2);

  // tick marks
  const yAxis = g.append("g").attr("transform", `translate(${p.left},0)`)
    .call(d3.axisLeft(y).tickValues(p.yTicks).tickSize(5).tickFormat(""));
  const xAxis = g.append("g").attr("transform", `translate(0,${p.bottom})`)
    .call(d3.axisBottom(x).tickValues(yearTicks).tickSize(5).tickFormat(""));
  [yAxis, xAxis].forEach(a => {
    a.select(".domain").remove();
    a.selectAll(".tick line").attr("stroke", "#707070").attr("stroke-width", 1.3);
  });

  // tick labels
  p.yTicks.forEach(v => {
    stretchedText(g, String(v), p.left - 14, y(v) + 5.8, { size: 17, sx: 1.2, anchor: "end" });
  });
  yearLabels.forEach(yr => {
    stretchedText(g, String(yr), x(yr + 0.5), p.xLabelY, { size: 19.5, sx: 1.1, anchor: "middle" });
  });

  // site name and note
  stretchedText(g, p.title, p.left + 1, p.titleY, { size: 12.6, sx: 1.0, weight: "bold", fill: "#2e3640" });
  const sub = stretchedText(g, "", p.left + 1, p.subY, { size: 13, sx: 1.0, fill: "#2e3640" });
  sub.append("tspan").text("[");
  sub.append("tspan").attr("font-style", "italic").text("selected data");
  sub.append("tspan").text("]");

  // y-axis title: CO2 (µmol.mol-1)
  const yt = stretchedText(g, "", p.yTitleX, p.yTitleY, { size: 18.5, sx: 1.15, rot: -90, anchor: "middle" });
  yt.append("tspan").text("CO");
  yt.append("tspan").attr("font-size", 12.5).attr("dy", 5).text("2");
  yt.append("tspan").attr("dy", -5).text(" (µmol.mol");
  yt.append("tspan").attr("font-size", 12.5).attr("dy", -8).text("−1");
  yt.append("tspan").attr("dy", 8).text(")");

  if (p.xTitle) {
    stretchedText(g, "year", p.xTitle.x, p.xTitle.y, { size: 19, sx: 1.12, anchor: "middle" });
  }
});

// slide heading, partly outside the visible area
svg.append("text")
  .attr("x", 1008).attr("y", 15)
  .attr("font-family", "Lato, 'Open Sans', sans-serif")
  .attr("font-size", 44)
  .attr("fill", "#1a1a1a")
  .text("In-situ – surface");
</script>
</body>
</html>
